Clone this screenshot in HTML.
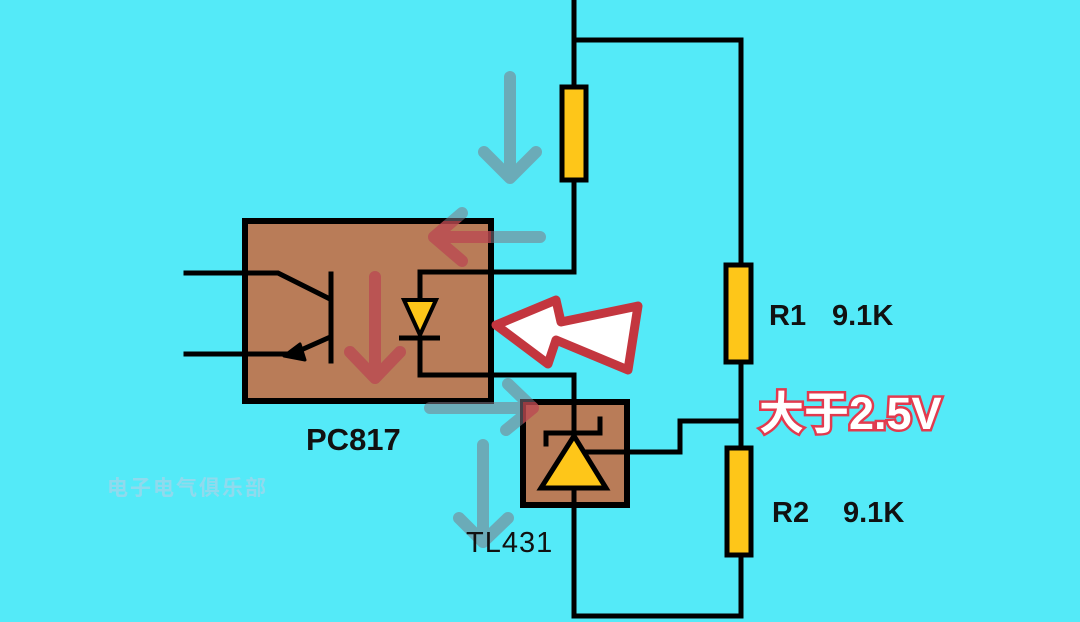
<!DOCTYPE html>
<html><head><meta charset="utf-8">
<style>
html,body{margin:0;padding:0;}
body{width:1080px;height:622px;overflow:hidden;background:#54eaf8;position:relative;}
svg{position:absolute;left:0;top:0;}
.t{position:absolute;font-family:"Liberation Sans","Noto Sans CJK SC",sans-serif;color:#111;white-space:nowrap;line-height:1;}
</style></head><body>
<svg width="1080" height="622" viewBox="0 0 1080 622">
<defs>
<clipPath id="boxes"><rect x="245" y="221" width="246" height="180"/><rect x="523" y="402" width="104" height="103"/></clipPath>
</defs>
<g fill="none" stroke="#000" stroke-width="5" stroke-linecap="square" stroke-linejoin="miter">
  <polyline points="574,0 574,272 420,272 420,300"/>
  <polyline points="574,40 741,40 741,616 574,616 574,375 420,375 420,338"/>
  <polyline points="585,452 680,452 680,421 741,421"/>
</g>
<rect x="245" y="221" width="246" height="180" fill="#b97c58" stroke="#000" stroke-width="6"/>
<g fill="none" stroke="#000" stroke-width="5" stroke-linecap="square">
  <polyline points="491,272 420,272 420,300"/>
  <polyline points="491,375 420,375 420,338"/>
  <polyline points="186,273 278,273 328,298"/>
  <line x1="331" y1="274" x2="331" y2="361"/>
  <polyline points="186,354 292,354"/>
  <line x1="328" y1="338" x2="292" y2="354"/>
</g>
<polygon points="284,356 300,344 305,360" fill="#000" stroke="#000" stroke-width="3" stroke-linejoin="round"/>
<polygon points="404,300 436,300 420,335" fill="#fec619" stroke="#000" stroke-width="4" stroke-linejoin="miter"/>
<line x1="399" y1="338" x2="440" y2="338" stroke="#000" stroke-width="5"/>
<rect x="523" y="402" width="104" height="103" fill="#b97c58" stroke="#000" stroke-width="6"/>
<g fill="none" stroke="#000" stroke-width="5" stroke-linecap="square">
  <line x1="574" y1="402" x2="574" y2="505"/>
  <line x1="585" y1="452" x2="627" y2="452"/>
  <polyline points="546,444 546,433 600,433 600,419"/>
</g>
<polygon points="574,436 541,488 606,488" fill="#fec619" stroke="#000" stroke-width="5" stroke-linejoin="miter"/>
<rect x="562" y="87" width="24" height="93" fill="#fec619" stroke="#000" stroke-width="5"/>
<rect x="726" y="265" width="25" height="97" fill="#fec619" stroke="#000" stroke-width="5"/>
<rect x="727" y="448" width="24" height="107" fill="#fec619" stroke="#000" stroke-width="5"/>
<g fill="none" stroke="rgba(125,118,132,0.55)" stroke-width="12" stroke-linecap="round" stroke-linejoin="round">
  <path d="M510,77 L510,178 M484,152 L510,178 L536,152"/>
  <path d="M540,237 L434,237 M462,213 L434,237 L462,261"/>
  <path d="M375,277 L375,378 M350,352 L375,378 L400,352"/>
  <path d="M430,408 L533,408 M508,384 L533,408 L506,430"/>
  <path d="M483,445 L483,542 M459,518 L483,542 L508,518"/>
</g>
<g clip-path="url(#boxes)" fill="none" stroke="rgba(215,55,60,0.55)" stroke-width="12" stroke-linecap="round" stroke-linejoin="round">
  <path d="M540,237 L434,237 M462,213 L434,237 L462,261"/>
  <path d="M375,277 L375,378 M350,352 L375,378 L400,352"/>
  <path d="M430,408 L533,408 M508,384 L533,408 L506,430"/>
</g>
<polygon points="496,325 556,300 561,322 638,306 628,370 556,340 548,364" fill="#fff" stroke="#c3363f" stroke-width="9" stroke-linejoin="round"/>
</svg>
<div class="t" style="left:306px;top:424px;font-size:31px;font-weight:bold;">PC817</div>
<div class="t" style="left:466px;top:529px;font-size:29px;letter-spacing:1px;">TL431</div>
<div class="t" style="left:769px;top:302px;font-size:29px;font-weight:bold;">R1</div>
<div class="t" style="left:832px;top:302px;font-size:29px;font-weight:bold;">9.1K</div>
<div class="t" style="left:772px;top:499px;font-size:29px;font-weight:bold;">R2</div>
<div class="t" style="left:843px;top:499px;font-size:29px;font-weight:bold;">9.1K</div>
<div class="t" style="left:759px;top:391px;font-size:45px;font-weight:bold;color:#fff;-webkit-text-stroke:5px #e23a4e;paint-order:stroke fill;">大于2.5V</div>
<div class="t" style="left:107px;top:478px;font-size:21px;font-weight:bold;color:rgba(235,195,220,0.4);letter-spacing:2px;">电子电气俱乐部</div>
</body></html>
